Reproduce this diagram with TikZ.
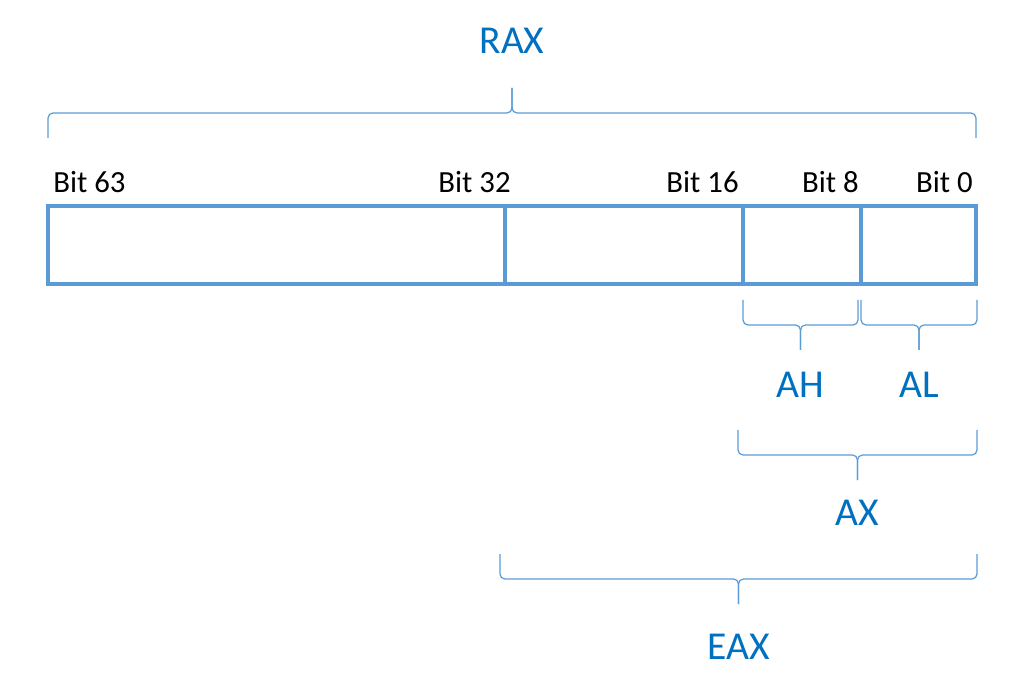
\documentclass[tikz,border=0pt]{standalone}
\usepackage{fontspec}
\setmainfont{Carlito}
\usetikzlibrary{calc,positioning}

\definecolor{cellblue}{HTML}{5B9BD5}
\definecolor{labelblue}{HTML}{0070C0}

% brace from #1 to #2, depth #3, tip named #4
\newcommand{\regbrace}[4]{%
  \draw[bracelink] (#1) -- ++(0,#3) -| ($(#1)!0.5!(#2)+(0,2*#3)$) coordinate (#4);
  \draw[bracelink] (#2) -- ++(0,#3) -| (#4);
}

\begin{document}
\begin{tikzpicture}[
  cell/.style={draw=cellblue, line width=2pt, minimum height=1.56cm, inner sep=0pt, outer sep=0pt},
  bitlabel/.style={inner sep=0pt, font=\fontsize{17.5}{21}\selectfont},
  reglabel/.style={inner sep=0pt, text=labelblue, font=\fontsize{22.5}{27}\selectfont},
  bracelink/.style={draw=cellblue, line width=0.7pt, rounded corners=0.1cm}
]
\useasboundingbox (0,0) rectangle (20.32,-13.46);

\node[cell, minimum width=9.14cm] (cell63) at (5.53,-4.9) {};
\node[cell, minimum width=4.76cm, right=0pt of cell63] (cell32) {};
\node[cell, minimum width=2.36cm, right=0pt of cell32] (cell16) {};
\node[cell, minimum width=2.3cm, right=0pt of cell16] (cell8) {};

\node[bitlabel, anchor=base west] (bit63) at ($(cell63.north west)+(0.1,0.26)$) {Bit 63};
\node[bitlabel, anchor=base east] (bit32) at ($(cell32.north west)+(0.12,0.26)$) {Bit 32};
\node[bitlabel, anchor=base east] (bit16) at ($(cell16.north west)+(-0.08,0.26)$) {Bit 16};
\node[bitlabel, anchor=base east] (bit8) at ($(cell8.north west)+(-0.04,0.26)$) {Bit 8};
\node[bitlabel, anchor=base east] (bit0) at ($(cell8.north east)+(-0.06,0.26)$) {Bit 0};

% RAX
\coordinate (raxl) at ($(cell63.north west)+(0,1.36)$);
\coordinate (raxr) at ($(cell8.north east)+(0,1.36)$);
\regbrace{raxl}{raxr}{0.5}{raxtip}
\node[reglabel, above=0.68cm of raxtip] (rax) {RAX};

% AH / AL
\coordinate (ahl) at ($(cell16.south west)+(0,-0.32)$);
\coordinate (ahr) at ($(cell16.south east)+(-0.06,-0.32)$);
\regbrace{ahl}{ahr}{-0.5}{ahtip}
\node[reglabel, below=0.44cm of ahtip] (ah) {AH};

\coordinate (all) at ($(cell8.south west)+(0,-0.32)$);
\coordinate (alr) at ($(cell8.south east)+(0.02,-0.32)$);
\regbrace{all}{alr}{-0.5}{altip}
\node[reglabel, below=0.44cm of altip] (al) {AL};

% AX
\coordinate (axl) at ($(cell16.south west)+(-0.1,-2.92)$);
\coordinate (axr) at ($(cell8.south east)+(0.02,-2.92)$);
\regbrace{axl}{axr}{-0.5}{axtip}
\node[reglabel, below=0.4cm of axtip] (ax) {AX};

% EAX
\coordinate (eaxl) at ($(cell32.south west)+(-0.1,-5.4)$);
\coordinate (eaxr) at ($(cell8.south east)+(0.02,-5.4)$);
\regbrace{eaxl}{eaxr}{-0.5}{eaxtip}
\node[reglabel, below=0.6cm of eaxtip] (eax) {EAX};
\end{tikzpicture}
\end{document}
